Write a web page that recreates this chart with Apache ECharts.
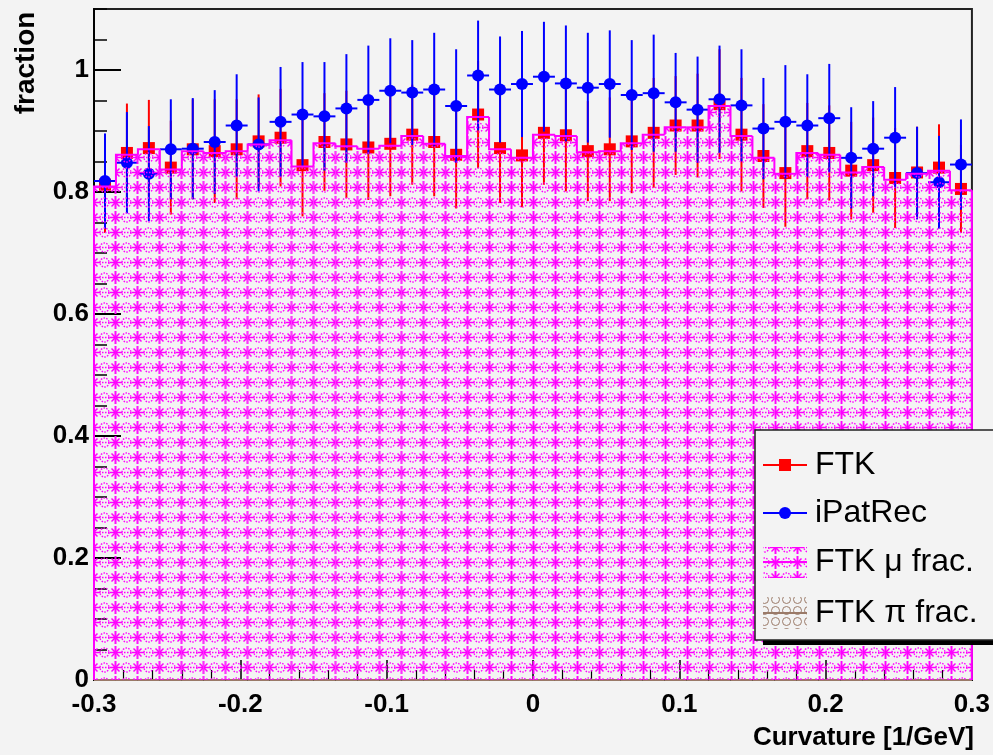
<!DOCTYPE html>
<html>
<head>
<meta charset="utf-8">
<script src="https://cdn.jsdelivr.net/npm/echarts@6/dist/echarts.min.js"></script>
<style>
html,body{margin:0;padding:0;background:#f3f3f3;}
#chart{width:993px;height:755px;}
</style>
</head>
<body>
<div id="chart"></div>
<script>
// ---- data ----
const binLow = [-0.3,-0.285,-0.27,-0.255,-0.24,-0.225,-0.21,-0.195,-0.18,-0.165,
  -0.15,-0.135,-0.12,-0.105,-0.09,-0.075,-0.06,-0.045,-0.03,-0.015,
  0,0.015,0.03,0.045,0.06,0.075,0.09,0.105,0.12,0.135,
  0.15,0.165,0.18,0.195,0.21,0.225,0.24,0.255,0.27,0.285];
const binWidth = 0.015;
const ftk = [0.812,0.864,0.872,0.840,0.870,0.867,0.870,0.883,0.889,0.844,
  0.882,0.878,0.873,0.879,0.894,0.882,0.861,0.927,0.872,0.860,
  0.897,0.893,0.867,0.870,0.883,0.897,0.909,0.909,0.944,0.894,
  0.859,0.831,0.867,0.864,0.835,0.844,0.823,0.832,0.840,0.805];
const ftkErr = [0.079,0.081,0.079,0.077,0.082,0.085,0.082,0.077,0.080,0.084,
  0.080,0.088,0.086,0.086,0.082,0.089,0.088,0.088,0.090,0.085,
  0.085,0.092,0.082,0.085,0.085,0.090,0.081,0.085,0.090,0.093,
  0.085,0.088,0.079,0.078,0.080,0.078,0.082,0.075,0.071,0.072];
const ipat = [0.818,0.848,0.830,0.870,0.871,0.882,0.909,0.878,0.915,0.927,
  0.924,0.937,0.951,0.966,0.963,0.968,0.941,0.991,0.968,0.977,
  0.989,0.978,0.971,0.977,0.959,0.962,0.947,0.935,0.952,0.942,
  0.904,0.915,0.909,0.921,0.856,0.871,0.889,0.831,0.816,0.845];
const ipatErr = [0.078,0.083,0.078,0.082,0.083,0.085,0.084,0.077,0.090,0.086,
  0.089,0.089,0.089,0.086,0.086,0.093,0.093,0.090,0.087,0.087,
  0.090,0.095,0.090,0.088,0.090,0.096,0.081,0.087,0.088,0.092,
  0.083,0.093,0.084,0.089,0.083,0.078,0.083,0.076,0.076,0.074];
const muFrac = [0.809,0.861,0.870,0.837,0.867,0.864,0.867,0.878,0.885,0.842,
  0.880,0.875,0.871,0.876,0.892,0.879,0.859,0.923,0.870,0.856,
  0.894,0.892,0.865,0.867,0.880,0.894,0.906,0.906,0.941,0.892,
  0.856,0.830,0.864,0.861,0.832,0.841,0.820,0.830,0.835,0.803];
const piFrac = [0,0,0,0,0,0,0,0,0,0,0,0,0,0,0,0,0,0,0,0,
  0,0,0,0,0,0,0,0,0,0,0,0,0,0,0,0,0,0,0,0];
const legendNames = ['FTK','iPatRec','FTK \u03bc frac.','FTK \u03c0 frac.'];

// ---- patterns ----
function makeMuPattern(){
  const c=document.createElement('canvas'); c.width=22; c.height=15;
  const g=c.getContext('2d');
  g.strokeStyle='#ff00ff';
  g.lineWidth=2;
  g.beginPath();
  g.moveTo(5.5,1); g.lineTo(5.5,14);
  g.stroke();
  g.lineWidth=1.5;
  g.beginPath();
  g.moveTo(0,7.5); g.lineTo(11,7.5);
  g.moveTo(1.5,3.5); g.lineTo(9.5,11.5);
  g.moveTo(9.5,3.5); g.lineTo(1.5,11.5);
  g.stroke();
  g.lineWidth=1.4; g.setLineDash([1.5,1.3]);
  g.beginPath(); g.arc(16.5,7.5,4.5,0,Math.PI*2); g.stroke();
  g.setLineDash([1.5,1.5]);
  g.beginPath(); g.moveTo(11,7.5); g.lineTo(22,7.5); g.stroke();
  return c;
}
function makePiPattern(){
  const c=document.createElement('canvas'); c.width=11; c.height=11;
  const g=c.getContext('2d');
  g.strokeStyle='#9a7a68'; g.lineWidth=1;
  g.beginPath(); g.arc(5.5,5.5,4,0,Math.PI*2); g.stroke();
  return c;
}
const muPat = {image: makeMuPattern(), repeat:'repeat'};
const piPat = {image: makePiPattern(), repeat:'repeat'};

function histData(vals){
  return vals.map((v,i)=>[binLow[i], binLow[i]+binWidth, v, i>0?vals[i-1]:0, i===vals.length-1?1:0]);
}
function pointData(vals, errs){
  return vals.map((v,i)=>[binLow[i], binLow[i]+binWidth, v, errs[i]]);
}

function histRender(fill, stroke){
  return function(params, api){
    const lo=api.value(0), hi=api.value(1), v=api.value(2), prev=api.value(3), last=api.value(4);
    const p0=api.coord([lo,0]), p1=api.coord([hi,v]), pp=api.coord([lo,prev]);
    const ch=[];
    if (fill && v>0) ch.push({type:'rect', shape:{x:p0[0], y:p1[1], width:p1[0]-p0[0], height:p0[1]-p1[1]}, style:{fill:fill}});
    ch.push({type:'polyline', shape:{points:[[p0[0],pp[1]],[p0[0],p1[1]],[p1[0],p1[1]]]}, style:{stroke:stroke, lineWidth:2, fill:null}});
    if (last) ch.push({type:'line', shape:{x1:p1[0],y1:p1[1],x2:p1[0],y2:p0[1]}, style:{stroke:stroke, lineWidth:2}});
    return {type:'group', children:ch};
  };
}

function ftkRender(params, api){
  const lo=api.value(0), hi=api.value(1), v=api.value(2), e=api.value(3);
  const x=(lo+hi)/2;
  const c=api.coord([x,v]), t=api.coord([x,v+e]), b=api.coord([x,v-e]);
  return {type:'group', children:[
    {type:'line', shape:{x1:c[0],y1:t[1],x2:c[0],y2:b[1]}, style:{stroke:'#ff0000', lineWidth:2}},
    {type:'rect', shape:{x:c[0]-6, y:c[1]-6, width:12, height:12}, style:{fill:'#ff0000'}}
  ]};
}
function ipatRender(params, api){
  const lo=api.value(0), hi=api.value(1), v=api.value(2), e=api.value(3);
  const x=(lo+hi)/2;
  const c=api.coord([x,v]), t=api.coord([x,v+e]), b=api.coord([x,v-e]);
  const l=api.coord([lo,v]), r=api.coord([hi,v]);
  return {type:'group', children:[
    {type:'line', shape:{x1:c[0],y1:t[1],x2:c[0],y2:b[1]}, style:{stroke:'#0000ff', lineWidth:2}},
    {type:'line', shape:{x1:l[0],y1:c[1],x2:r[0],y2:c[1]}, style:{stroke:'#0000ff', lineWidth:2}},
    {type:'circle', shape:{cx:c[0], cy:c[1], r:6}, style:{fill:'#0000ff'}}
  ]};
}

const FONT='"Liberation Sans", Arial, Helvetica, sans-serif';
const chart = echarts.init(document.getElementById('chart'), null, {renderer:'canvas'});

const lgX=763, lgY=[465,513,562,613];
const option = {
  backgroundColor:'#f3f3f3',
  animation:false,
  grid:{left:94, right:19, top:9, bottom:75, show:true, borderColor:'#222', borderWidth:2, backgroundColor:'transparent'},
  xAxis:{type:'value', min:-0.3, max:0.3, interval:0.1,
    axisLine:{show:true, onZero:false, lineStyle:{color:'#000', width:2}},
    axisTick:{show:true, inside:true, length:20, lineStyle:{color:'#000', width:1.5}},
    minorTick:{show:true, splitNumber:5, length:10, lineStyle:{color:'#000', width:1.2}},
    splitLine:{show:false},
    axisLabel:{fontFamily:FONT, fontWeight:'bold', fontSize:26, color:'#000', margin:12,
      formatter:function(v){ return String(Math.round(v*10)/10); }}
  },
  yAxis:[
    {type:'value', min:0, max:1.1, interval:0.2,
      axisLine:{show:true, onZero:false, lineStyle:{color:'#000', width:2}},
      axisTick:{show:true, inside:true, length:27, lineStyle:{color:'#000', width:2}},
      splitLine:{show:false},
      axisLabel:{fontFamily:FONT, fontWeight:'bold', fontSize:26, color:'#000', margin:5, showMaxLabel:false, padding:[8,0,0,0],
        formatter:function(v){ return String(Math.round(v*10)/10); }}
    },
    {type:'value', min:0, max:1.1, interval:0.05, position:'left', offset:0,
      axisLine:{show:false, onZero:false}, splitLine:{show:false}, axisLabel:{show:false},
      axisTick:{show:true, inside:true, length:13, lineStyle:{color:'#000', width:1.5}}
    }
  ],
  series:[
    {type:'custom', name:'FTK \u03c0 frac.', renderItem:histRender(piPat,'#9a7a68'), data:histData(piFrac), encode:{x:[0,1], y:2}, z:1, silent:true},
    {type:'custom', name:'FTK', renderItem:ftkRender, data:pointData(ftk, ftkErr), encode:{x:[0,1], y:2}, z:2, silent:true},
    {type:'custom', name:'iPatRec', renderItem:ipatRender, data:pointData(ipat, ipatErr), encode:{x:[0,1], y:2}, z:3, silent:true},
    {type:'custom', name:'FTK \u03bc frac.', renderItem:histRender(muPat,'#ff00ff'), data:histData(muFrac), encode:{x:[0,1], y:2}, z:4, silent:true}
  ],
  graphic:[
    {type:'text', x:26, y:63, rotation:Math.PI/2, style:{text:'fraction', font:'bold 28px '+FONT, fill:'#000', textAlign:'center', textVerticalAlign:'middle'}},
    {type:'text', x:974, y:738, style:{text:'Curvature [1/GeV]', font:'bold 26px '+FONT, fill:'#000', textAlign:'right', textVerticalAlign:'middle'}},
    // legend
    {type:'rect', z:10, shape:{x:763, y:435, width:260, height:210}, style:{fill:'#000'}},
    {type:'rect', z:11, shape:{x:755, y:430, width:260, height:210}, style:{fill:'#f3f3f3', stroke:'#222', lineWidth:1.5}},
    {type:'line', z:12, shape:{x1:lgX, y1:lgY[0], x2:lgX+44, y2:lgY[0]}, style:{stroke:'#ff0000', lineWidth:2}},
    {type:'rect', z:12, shape:{x:lgX+16, y:lgY[0]-6, width:12, height:12}, style:{fill:'#ff0000'}},
    {type:'line', z:12, shape:{x1:lgX, y1:lgY[1], x2:lgX+44, y2:lgY[1]}, style:{stroke:'#0000ff', lineWidth:2}},
    {type:'circle', z:12, shape:{cx:lgX+22, cy:lgY[1], r:6}, style:{fill:'#0000ff'}},
    {type:'rect', z:12, shape:{x:lgX, y:lgY[2]-15, width:44, height:31}, style:{fill:muPat}},
    {type:'line', z:12, shape:{x1:lgX, y1:lgY[2], x2:lgX+44, y2:lgY[2]}, style:{stroke:'#ff00ff', lineWidth:2}},
    {type:'rect', z:12, shape:{x:lgX, y:lgY[3]-16, width:44, height:32}, style:{fill:piPat}},
    {type:'line', z:12, shape:{x1:lgX, y1:lgY[3], x2:lgX+44, y2:lgY[3]}, style:{stroke:'#9a7a68', lineWidth:2}},
    {type:'text', z:12, x:815, y:lgY[0], style:{text:legendNames[0], font:'32px '+FONT, fill:'#000', textVerticalAlign:'middle'}},
    {type:'text', z:12, x:815, y:lgY[1], style:{text:legendNames[1], font:'32px '+FONT, fill:'#000', textVerticalAlign:'middle'}},
    {type:'text', z:12, x:815, y:lgY[2], style:{text:legendNames[2], font:'32px '+FONT, fill:'#000', textVerticalAlign:'middle'}},
    {type:'text', z:12, x:815, y:lgY[3], style:{text:legendNames[3], font:'32px '+FONT, fill:'#000', textVerticalAlign:'middle'}}
  ]
};
chart.setOption(option);
</script>
</body>
</html>
